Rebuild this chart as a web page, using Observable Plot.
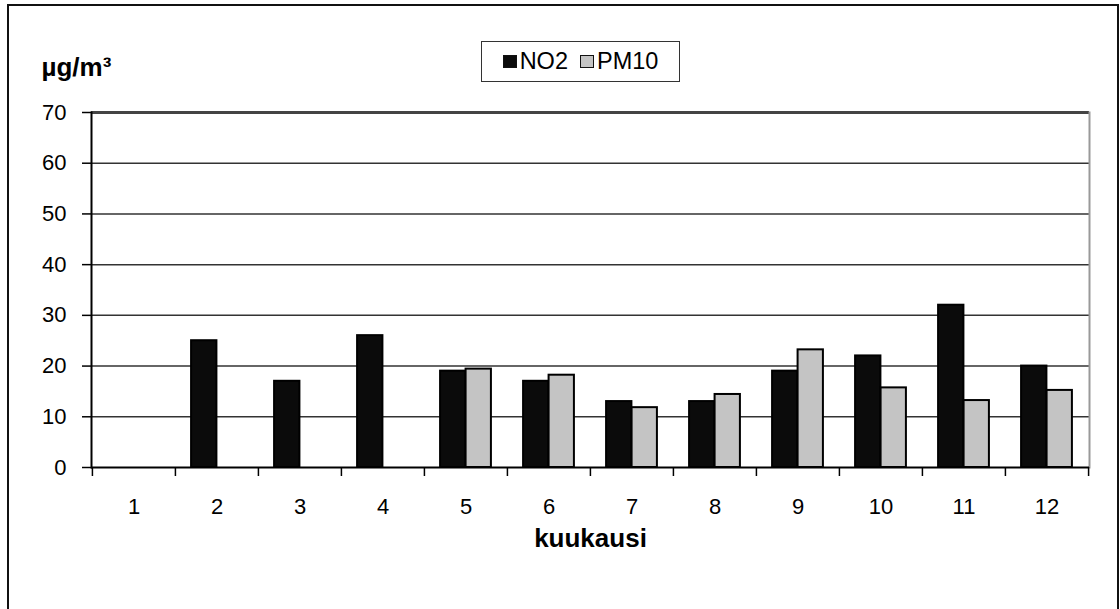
<!DOCTYPE html>
<html>
<head>
<meta charset="utf-8">
<script src="https://cdn.jsdelivr.net/npm/d3@7"></script>
<script src="https://cdn.jsdelivr.net/npm/@observablehq/plot@0.6"></script>
<style>
html, body { margin: 0; padding: 0; background: #fff; overflow: hidden; width: 1120px; height: 609px; }
#wrap { position: relative; width: 1120px; height: 609px; }
#wrap svg { position: absolute; left: 0; top: 0; }
#border { position: absolute; left: 7px; top: 4px; width: 1112px; height: 640px; border: 2px solid #111; box-sizing: border-box; pointer-events: none; }
#legend { position: absolute; left: 481px; top: 41px; width: 199px; height: 41px; border: 1.5px solid #333; box-sizing: border-box;
  display: flex; align-items: center; justify-content: center; gap: 12px;
  font-family: "Liberation Sans", Arial, sans-serif; font-size: 23.5px; color: #000; background: #fff; }
#legend .item { display: flex; align-items: center; }
#legend .sw { display: inline-block; width: 14px; height: 13px; border: 1.5px solid #111; box-sizing: border-box; margin-right: 3px; }
</style>
</head>
<body>
<div id="wrap"></div>
<script>
const months = [1, 2, 3, 4, 5, 6, 7, 8, 9, 10, 11, 12];
const seriesNames = ["NO2", "PM10"];
const no2Values  = [null, 25, 17, 26, 19, 17, 13, 13, 19, 22, 32, 20];
const pm10Values = [null, null, null, null, 19.4, 18.2, 11.8, 14.4, 23.2, 15.7, 13.2, 15.2];
const yTicks = [0, 10, 20, 30, 40, 50, 60, 70];
const yLabel = "µg/m³";
const xLabel = "kuukausi";
const seriesColors = ["#0b0b0b", "#c4c4c4"];

const rows = months.flatMap((m, i) => [
  {month: m, series: seriesNames[0], value: no2Values[i]},
  {month: m, series: seriesNames[1], value: pm10Values[i]}
]).filter(d => d.value != null);

const W = 1120, H = 609;
const mL = 91, mR = 31, mT = 112, mB = 142;
const bw = (W - mL - mR) / months.length;
const barW = 25.5;
const outer = (bw - 2 * barW) / 2;

const fontFamily = "'Liberation Sans', Arial, sans-serif";
const fs = 22;
const fsBold = 26;

const chart = Plot.plot({
  width: W, height: H,
  marginLeft: mL, marginRight: mR, marginTop: mT, marginBottom: mB,
  style: {fontFamily, fontSize: fs + "px", color: "#000", background: "transparent", overflow: "visible"},
  x: {type: "band", domain: months, padding: 0},
  y: {domain: [0, 70]},
  color: {domain: seriesNames, range: seriesColors},
  marks: [
    Plot.gridY({ticks: yTicks.slice(1, -1), stroke: "#333", strokeOpacity: 1, strokeWidth: 1.5}),
    Plot.ruleY([70], {stroke: "#444", strokeWidth: 3}),
    Plot.frame({anchor: "right", stroke: "#999", strokeWidth: 2}),
    Plot.barY(rows.filter(d => d.series === seriesNames[0]), {
      x: "month", y: "value", fill: "series", stroke: "#000", strokeWidth: 2,
      insetLeft: outer, insetRight: bw - outer - barW
    }),
    Plot.barY(rows.filter(d => d.series === seriesNames[1]), {
      x: "month", y: "value", fill: "series", stroke: "#000", strokeWidth: 2,
      insetLeft: outer + barW, insetRight: outer
    }),
    Plot.ruleY([0], {stroke: "#000", strokeWidth: 2}),
    Plot.frame({anchor: "left", stroke: "#000", strokeWidth: 2}),
    Plot.axisY({ticks: yTicks, tickSize: 9, tickPadding: 16, fontSize: fs, label: null, stroke: "#000", strokeWidth: 1.5}),
    Plot.axisX({ticks: months, tickSize: 0, tickPadding: 31, fontSize: fs, label: null}),
    Plot.axisX({ticks: months, tickSize: 9, text: null, label: null, dx: -bw / 2, stroke: "#000", strokeWidth: 1.5}),
    Plot.axisX({ticks: [months[months.length - 1]], tickSize: 9, text: null, label: null, dx: bw / 2, stroke: "#000", strokeWidth: 1.5}),
    Plot.text([xLabel], {frameAnchor: "bottom", dy: 79, fontWeight: "bold", fontSize: fsBold}),
    Plot.text([yLabel], {frameAnchor: "top-left", dx: -50, dy: -55, textAnchor: "start", fontWeight: "bold", fontSize: fsBold})
  ]
});

const wrap = document.getElementById("wrap");
wrap.appendChild(chart);

const border = document.createElement("div");
border.id = "border";
wrap.appendChild(border);

const legend = document.createElement("div");
legend.id = "legend";
seriesNames.forEach((s, i) => {
  const item = document.createElement("span");
  item.className = "item";
  const sw = document.createElement("span");
  sw.className = "sw";
  sw.style.background = seriesColors[i];
  item.appendChild(sw);
  item.appendChild(document.createTextNode(s));
  legend.appendChild(item);
});
wrap.appendChild(legend);
</script>
</body>
</html>
